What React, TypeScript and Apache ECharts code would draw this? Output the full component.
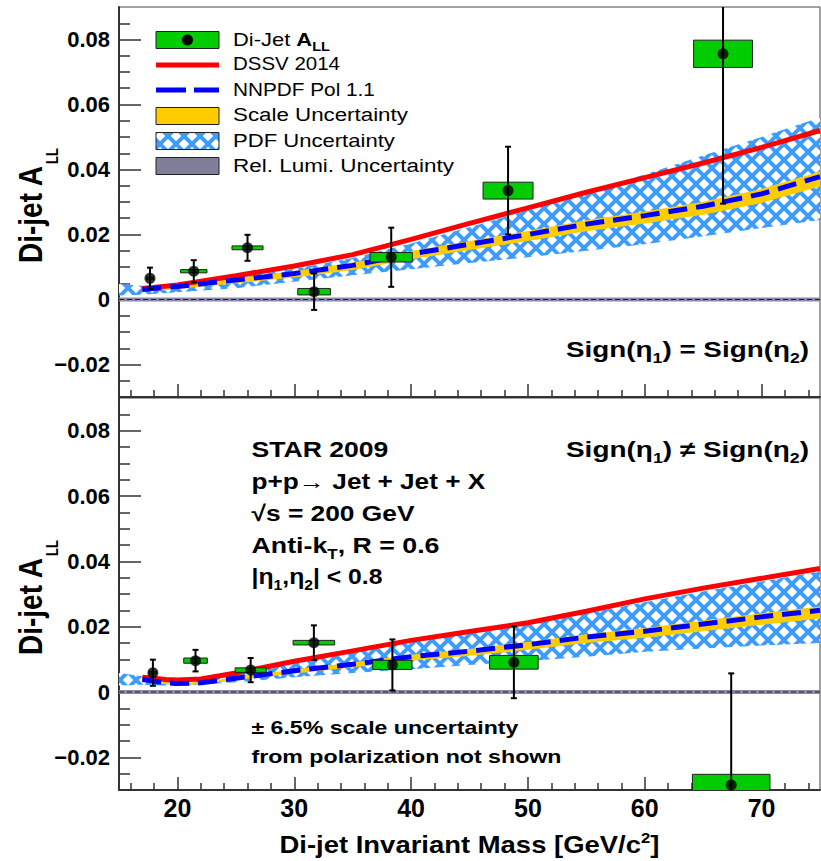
import React, { useEffect, useRef } from 'react';
import * as echarts from 'echarts';

// ---------- axes ----------
const X_MIN = 15;
const X_MAX = 75;
const Y_MIN = -0.03;
const Y_MAX = 0.09;
const xMajorTicks = [20, 30, 40, 50, 60, 70];
const xMinorTicks = [16, 18, 22, 24, 26, 28, 32, 34, 36, 38, 42, 44, 46, 48, 52, 54, 56, 58, 62, 64, 66, 68, 72, 74];
const yMajorTicks = [-0.02, 0, 0.02, 0.04, 0.06, 0.08];
const yMinorTicks = [-0.025, -0.015, -0.01, -0.005, 0.005, 0.01, 0.015, 0.025, 0.03, 0.035, 0.045, 0.05, 0.055, 0.065, 0.07, 0.075, 0.085];

// ---------- top panel: Sign(eta1) = Sign(eta2) ----------
const topMass = [17.65, 21.4, 26.0, 31.7, 38.3, 48.3, 66.7];
const topALL = [0.0065, 0.0087, 0.0159, 0.0024, 0.0130, 0.0335, 0.0756];
const topStat = [0.0033, 0.0034, 0.0040, 0.0056, 0.0091, 0.0135, 0.0461];
const topSysHalfW = [0.3, 1.13, 1.33, 1.4, 1.81, 2.14, 2.52];
const topSysHalfH = [0.0004, 0.0005, 0.0006, 0.0010, 0.00145, 0.0026, 0.0042];

const topTheoryMass = [17, 20, 25, 30, 35, 40, 45, 50, 55, 60, 65, 70, 75];
const topDSSV = [0.0033, 0.0045, 0.0073, 0.0103, 0.0138, 0.0185, 0.0234, 0.0282, 0.0330, 0.0375, 0.0420, 0.0468, 0.0520];
const topNNPDF = [0.0031, 0.0040, 0.0060, 0.0080, 0.0105, 0.0140, 0.0170, 0.0200, 0.0232, 0.0258, 0.0287, 0.0325, 0.0378];
const topScaleHi = [0.0035, 0.0045, 0.0066, 0.0087, 0.0113, 0.0149, 0.0180, 0.0211, 0.0244, 0.0271, 0.0301, 0.0340, 0.0394];
const topScaleLo = [0.0025, 0.0032, 0.0050, 0.0068, 0.0091, 0.0124, 0.0152, 0.0180, 0.0210, 0.0234, 0.0261, 0.0297, 0.0348];

const pdfMass = [15, 17, 20, 25, 30, 35, 40, 45, 50, 55, 60, 65, 70, 75];
const topPdfHi = [0.0048, 0.0042, 0.0050, 0.0068, 0.0095, 0.0128, 0.0172, 0.0222, 0.0275, 0.0330, 0.0385, 0.0443, 0.0500, 0.0560];
const topPdfLo = [0.0012, 0.0015, 0.0022, 0.0035, 0.0055, 0.0075, 0.0093, 0.0112, 0.0130, 0.0150, 0.0170, 0.0195, 0.0220, 0.0245];

// ---------- bottom panel: Sign(eta1) != Sign(eta2) ----------
const botMass = [17.9, 21.55, 26.27, 31.68, 38.4, 48.8, 67.4];
const botALL = [0.0059, 0.0096, 0.0067, 0.0151, 0.0083, 0.0091, -0.0285];
const botStat = [0.0040, 0.0033, 0.0037, 0.0053, 0.0078, 0.0110, 0.0342];
const botSysHalfW = [0.3, 1.01, 1.33, 1.78, 1.68, 2.08, 3.32];
const botSysHalfH = [0.0004, 0.0008, 0.0007, 0.0007, 0.0014, 0.0021, 0.0033];

const botTheoryMass = [17, 19, 20, 22, 25, 30, 35, 40, 45, 50, 55, 60, 65, 70, 75];
const botDSSV = [0.0045, 0.0038, 0.0037, 0.0040, 0.0058, 0.0094, 0.0126, 0.0158, 0.0185, 0.0212, 0.0247, 0.0285, 0.0318, 0.0348, 0.0378];
const botNNPDF = [0.0038, 0.0028, 0.0026, 0.0028, 0.0042, 0.0065, 0.0085, 0.0108, 0.0125, 0.0145, 0.0168, 0.0186, 0.0208, 0.0230, 0.0250];
const botScaleHi = [0.0040, 0.0030, 0.0028, 0.0030, 0.0045, 0.0069, 0.0090, 0.0114, 0.0132, 0.0153, 0.0177, 0.0196, 0.0219, 0.0241, 0.0262];
const botScaleLo = [0.0034, 0.0024, 0.0022, 0.0023, 0.0036, 0.0057, 0.0075, 0.0096, 0.0111, 0.0129, 0.0150, 0.0166, 0.0186, 0.0206, 0.0225];
const botPdfHi = [0.0058, 0.0048, 0.0040, 0.0055, 0.0088, 0.0120, 0.0152, 0.0180, 0.0205, 0.0240, 0.0275, 0.0308, 0.0338, 0.0370];
const botPdfLo = [0.0020, 0.0022, 0.0018, 0.0030, 0.0045, 0.0058, 0.0070, 0.0083, 0.0095, 0.0108, 0.0123, 0.0133, 0.0142, 0.0150];

// relative luminosity band and zero line
const lumiMass = [15, 75];
const lumiLo = [-0.0006, -0.0006];
const lumiHi = [0.0006, 0.0006];
const zeroVal = [0, 0];

// ---------- styling ----------
const FONT = '"Liberation Sans", Arial, Helvetica, sans-serif';
const GREEN = '#00cc00';
const RED = '#ff0000';
const BLUE = '#0000ff';
const YELLOW = '#ffcc00';
const LUMI = '#8a8aa8';
const HATCH = '#3d9cff';
const AXIS = '#333333';

type Seg = { t: string; size: number; bold?: boolean; dy?: number };
let measureCtx: CanvasRenderingContext2D | null = null;
const fontOf = (s: Seg) => `${s.bold ? 'bold' : 'normal'} ${s.size}px ${FONT}`;
const measure = (s: Seg) => {
  if (!measureCtx) measureCtx = document.createElement('canvas').getContext('2d');
  measureCtx!.font = fontOf(s);
  return measureCtx!.measureText(s.t).width;
};
const textStyle = (s: Seg) => ({
  text: s.t,
  font: fontOf(s),
  fill: '#000',
  align: 'left',
  textAlign: 'left',
  verticalAlign: 'middle',
  textVerticalAlign: 'middle',
});

function textRow(segs: Seg[], x: number, baseline: number, width: number, align: 'left' | 'right' | 'center' = 'left') {
  const ws = segs.map(measure);
  const natural = ws.reduce((a, b) => a + b, 0);
  const sc = width / natural;
  let cur = align === 'left' ? x : align === 'right' ? x - width : x - width / 2;
  return segs.map((s, i) => {
    const el = {
      type: 'text',
      x: cur,
      y: baseline + (s.dy || 0) - 0.3465 * s.size,
      scaleX: sc,
      z: 100,
      silent: true,
      style: textStyle(s),
    };
    cur += ws[i] * sc;
    return el;
  });
}

function textCol(segs: Seg[], baselineX: number, startY: number, cross: number) {
  const ws = segs.map(measure);
  let cur = startY;
  return segs.map((s, i) => {
    const el = {
      type: 'text',
      x: baselineX + (s.dy || 0) - 0.3465 * s.size * cross,
      y: cur,
      rotation: Math.PI / 2,
      scaleY: cross,
      z: 100,
      silent: true,
      style: textStyle(s),
    };
    cur -= ws[i];
    return el;
  });
}

function makeHatch() {
  const n = 16;
  const c = document.createElement('canvas');
  c.width = n;
  c.height = n;
  const g = c.getContext('2d')!;
  g.fillStyle = '#ffffff';
  g.fillRect(0, 0, n, n);
  g.strokeStyle = HATCH;
  g.lineWidth = 4;
  g.beginPath();
  g.moveTo(-3, -3);
  g.lineTo(n + 3, n + 3);
  g.moveTo(n + 3, -3);
  g.lineTo(-3, n + 3);
  g.stroke();
  return { image: c, repeat: 'repeat', imageWidth: n, imageHeight: n };
}

function bandSeries(xs: number[], lo: number[], hi: number[], fill: any, axis: number, z: number) {
  return {
    type: 'custom',
    xAxisIndex: axis,
    yAxisIndex: axis,
    clip: true,
    silent: true,
    z,
    data: xs.map((x, i) => [x, lo[i], hi[i]]),
    encode: { x: 0, y: [1, 2] },
    renderItem: (params: any, api: any) => {
      if (params.dataIndex !== 0) return null;
      const pts: number[][] = [];
      for (let i = 0; i < xs.length; i++) pts.push(api.coord([xs[i], hi[i]]));
      for (let i = xs.length - 1; i >= 0; i--) pts.push(api.coord([xs[i], lo[i]]));
      return { type: 'polygon', shape: { points: pts }, style: { fill, stroke: null, lineWidth: 0 } };
    },
  };
}

function lineSeries(xs: number[], ys: number[], color: string, width: number, type: any, axis: number, z: number) {
  return {
    type: 'line',
    xAxisIndex: axis,
    yAxisIndex: axis,
    data: xs.map((x, i) => [x, ys[i]]),
    showSymbol: false,
    symbol: 'none',
    silent: true,
    clip: true,
    z,
    lineStyle: { color, width, type },
  };
}

function boxSeries(xs: number[], ys: number[], hw: number[], hh: number[], axis: number) {
  return {
    type: 'custom',
    xAxisIndex: axis,
    yAxisIndex: axis,
    clip: true,
    silent: true,
    z: 7,
    data: xs.map((x, i) => [x, ys[i], hw[i], hh[i]]),
    encode: { x: 0, y: 1 },
    renderItem: (params: any, api: any) => {
      const x = api.value(0), y = api.value(1), w = api.value(2), h = api.value(3);
      const p1 = api.coord([x - w, y + h]);
      const p2 = api.coord([x + w, y - h]);
      return {
        type: 'rect',
        shape: { x: p1[0], y: p1[1], width: p2[0] - p1[0], height: p2[1] - p1[1] },
        style: { fill: GREEN, stroke: '#222', lineWidth: 1 },
      };
    },
  };
}

function errSeries(xs: number[], ys: number[], es: number[], axis: number) {
  return {
    type: 'custom',
    xAxisIndex: axis,
    yAxisIndex: axis,
    clip: true,
    silent: true,
    z: 8,
    data: xs.map((x, i) => [x, ys[i], es[i]]),
    encode: { x: 0, y: 1 },
    renderItem: (params: any, api: any) => {
      const x = api.value(0), y = api.value(1), e = api.value(2);
      const t = api.coord([x, y + e]);
      const b = api.coord([x, y - e]);
      const c = 3;
      const st = { stroke: '#000', lineWidth: 2 };
      return {
        type: 'group',
        children: [
          { type: 'line', shape: { x1: t[0], y1: t[1], x2: b[0], y2: b[1] }, style: st },
          { type: 'line', shape: { x1: t[0] - c, y1: t[1], x2: t[0] + c, y2: t[1] }, style: st },
          { type: 'line', shape: { x1: b[0] - c, y1: b[1], x2: b[0] + c, y2: b[1] }, style: st },
        ],
      };
    },
  };
}

function pointSeries(xs: number[], ys: number[], axis: number) {
  return {
    type: 'scatter',
    xAxisIndex: axis,
    yAxisIndex: axis,
    silent: true,
    z: 9,
    symbol: 'circle',
    symbolSize: 11,
    itemStyle: { color: '#000' },
    data: xs.map((x, i) => [x, ys[i]]),
  };
}

const fmtY = (v: number) => (Math.abs(v) < 1e-9 ? '0' : (v < 0 ? '\u2212' : '') + Math.abs(v).toFixed(2));

function xAxes(gridIndex: number, labels: boolean) {
  return [
    {
      type: 'value', gridIndex, min: X_MIN, max: X_MAX, position: 'bottom',
      axisLine: { show: true, onZero: false, lineStyle: { color: AXIS, width: 2 } },
      axisTick: { show: true, inside: true, length: 13, customValues: xMajorTicks, lineStyle: { color: AXIS, width: 1.5 } },
      axisLabel: {
        show: labels, customValues: xMajorTicks, margin: 5, fontSize: 25, fontWeight: 'bold',
        fontFamily: FONT, color: '#000', formatter: (v: number) => String(v),
      },
      splitLine: { show: false },
    },
    {
      type: 'value', gridIndex, min: X_MIN, max: X_MAX, position: 'bottom',
      axisLine: { show: false, onZero: false },
      axisTick: { show: true, inside: true, length: 7, customValues: xMinorTicks, lineStyle: { color: AXIS, width: 1.5 } },
      axisLabel: { show: false },
      splitLine: { show: false },
    },
  ];
}

function yAxes(gridIndex: number) {
  return [
    {
      type: 'value', gridIndex, min: Y_MIN, max: Y_MAX, position: 'left',
      axisLine: { show: true, onZero: false, lineStyle: { color: AXIS, width: 2 } },
      axisTick: { show: true, inside: true, length: 22, customValues: yMajorTicks, lineStyle: { color: AXIS, width: 1.5 } },
      axisLabel: {
        show: true, customValues: yMajorTicks, margin: 9, fontSize: 22, fontWeight: 'bold',
        fontFamily: FONT, color: '#000', formatter: fmtY,
      },
      splitLine: { show: false },
    },
    {
      type: 'value', gridIndex, min: Y_MIN, max: Y_MAX, position: 'left',
      axisLine: { show: false, onZero: false },
      axisTick: { show: true, inside: true, length: 11, customValues: yMinorTicks, lineStyle: { color: AXIS, width: 1.5 } },
      axisLabel: { show: false },
      splitLine: { show: false },
    },
  ];
}

function panelSeries(axis: number, p: any, hatch: any) {
  return [
    bandSeries(pdfMass, p.pdfLo, p.pdfHi, hatch, axis, 1),
    bandSeries(lumiMass, lumiLo, lumiHi, LUMI, axis, 2),
    lineSeries(lumiMass, zeroVal, '#222', 1.2, [5, 3], axis, 3),
    bandSeries(p.thMass, p.scaleLo, p.scaleHi, YELLOW, axis, 4),
    lineSeries(p.thMass, p.dssv, RED, 5, 'solid', axis, 5),
    lineSeries(p.thMass, p.nnpdf, BLUE, 5, [19, 9], axis, 6),
    boxSeries(p.mass, p.all, p.sysW, p.sysH, axis),
    errSeries(p.mass, p.all, p.stat, axis),
    pointSeries(p.mass, p.all, axis),
  ];
}

function buildGraphics(hatch: any) {
  const els: any[] = [];
  const lx0 = 156, lw = 63, ly = [40, 65, 90, 116, 141, 166];
  const boxH = 17;
  const rectEl = (y: number, fill: any) => ({
    type: 'rect', z: 100, silent: true,
    shape: { x: lx0, y: y - boxH / 2, width: lw, height: boxH },
    style: { fill, stroke: '#222', lineWidth: 1 },
  });
  els.push(rectEl(ly[0], GREEN));
  els.push({ type: 'circle', z: 101, silent: true, shape: { cx: lx0 + lw / 2, cy: ly[0], r: 5.5 }, style: { fill: '#000' } });
  els.push({ type: 'line', z: 100, silent: true, shape: { x1: lx0, y1: ly[1], x2: lx0 + lw, y2: ly[1] }, style: { stroke: RED, lineWidth: 5 } });
  els.push({ type: 'line', z: 100, silent: true, shape: { x1: lx0, y1: ly[2], x2: lx0 + lw, y2: ly[2] }, style: { stroke: BLUE, lineWidth: 5, lineDash: [30, 8] } });
  els.push(rectEl(ly[3], YELLOW));
  els.push(rectEl(ly[4], hatch));
  els.push(rectEl(ly[5], '#7f7f9c'));

  const tx = 233;
  els.push(...textRow([{ t: 'Di-Jet ', size: 18 }, { t: 'A', size: 18, bold: true }, { t: 'LL', size: 12, bold: true, dy: 5 }], tx, 46, 97));
  els.push(...textRow([{ t: 'DSSV 2014', size: 18 }], tx, 70.5, 107));
  els.push(...textRow([{ t: 'NNPDF Pol 1.1', size: 18 }], tx, 95.5, 142));
  els.push(...textRow([{ t: 'Scale Uncertainty', size: 18 }], tx, 121, 175));
  els.push(...textRow([{ t: 'PDF Uncertainty', size: 18 }], tx, 146.5, 162));
  els.push(...textRow([{ t: 'Rel. Lumi. Uncertainty', size: 18 }], tx, 172, 221));

  // panel labels
  els.push(...textRow([
    { t: 'Sign(\u03b7', size: 22, bold: true }, { t: '1', size: 14, bold: true, dy: 6 },
    { t: ') = Sign(\u03b7', size: 22, bold: true }, { t: '2', size: 14, bold: true, dy: 6 },
    { t: ')', size: 22, bold: true },
  ], 809, 357, 243, 'right'));
  els.push(...textRow([
    { t: 'Sign(\u03b7', size: 22, bold: true }, { t: '1', size: 14, bold: true, dy: 6 },
    { t: ') \u2260 Sign(\u03b7', size: 22, bold: true }, { t: '2', size: 14, bold: true, dy: 6 },
    { t: ')', size: 22, bold: true },
  ], 809, 457, 243, 'right'));

  const ax = 251.5;
  els.push(...textRow([{ t: 'STAR 2009', size: 22, bold: true }], ax, 457, 137));
  els.push(...textRow([{ t: 'p+p\u2192 Jet + Jet + X', size: 22, bold: true }], ax, 489, 234));
  els.push(...textRow([{ t: '\u221as = 200 GeV', size: 22, bold: true }], ax, 521, 163));
  els.push(...textRow([
    { t: 'Anti-k', size: 22, bold: true }, { t: 'T', size: 14, bold: true, dy: 6 },
    { t: ', R = 0.6', size: 22, bold: true },
  ], ax, 553, 188));
  els.push(...textRow([
    { t: '|\u03b7', size: 22, bold: true }, { t: '1', size: 14, bold: true, dy: 6 },
    { t: ',\u03b7', size: 22, bold: true }, { t: '2', size: 14, bold: true, dy: 6 },
    { t: '| < 0.8', size: 22, bold: true },
  ], ax, 584, 131));
  els.push(...textRow([{ t: '\u00b1 6.5% scale uncertainty', size: 19, bold: true }], ax, 734, 267));
  els.push(...textRow([{ t: 'from polarization not shown', size: 19, bold: true }], ax, 763, 310));

  // x title
  els.push(...textRow([
    { t: 'Di-jet Invariant Mass [GeV/c', size: 23, bold: true },
    { t: '2', size: 14, bold: true, dy: -10 },
    { t: ']', size: 23, bold: true },
  ], 469.5, 853, 380, 'center'));

  // y titles (rotated)
  for (const startY of [263, 655]) {
    els.push(...textCol([{ t: 'Di-jet A', size: 28, bold: true }], 42, startY, 1.2));
    els.push(...textCol([{ t: 'LL', size: 13, bold: true }], 58, startY - 99, 1.2));
  }
  return els;
}

const App = () => {
  const ref = useRef<HTMLDivElement>(null);
  useEffect(() => {
    if (!ref.current) return;
    const chart = echarts.init(ref.current, null, { renderer: 'svg' });
    const hatch = makeHatch();
    const top = {
      mass: topMass, all: topALL, stat: topStat, sysW: topSysHalfW, sysH: topSysHalfH,
      thMass: topTheoryMass, dssv: topDSSV, nnpdf: topNNPDF, scaleLo: topScaleLo, scaleHi: topScaleHi,
      pdfLo: topPdfLo, pdfHi: topPdfHi,
    };
    const bot = {
      mass: botMass, all: botALL, stat: botStat, sysW: botSysHalfW, sysH: botSysHalfH,
      thMass: botTheoryMass, dssv: botDSSV, nnpdf: botNNPDF, scaleLo: botScaleLo, scaleHi: botScaleHi,
      pdfLo: botPdfLo, pdfHi: botPdfHi,
    };
    const option: any = {
      animation: false,
      backgroundColor: '#ffffff',
      grid: [
        { left: 119, right: 1, top: 7, height: 390, show: true, borderColor: '#444', borderWidth: 1, backgroundColor: 'transparent' },
        { left: 119, right: 1, top: 398, height: 392, show: true, borderColor: '#444', borderWidth: 1, backgroundColor: 'transparent' },
      ],
      xAxis: [...xAxes(0, false), ...xAxes(1, true)],
      yAxis: [...yAxes(0), ...yAxes(1)],
      series: [...panelSeries(0, top, hatch), ...panelSeries(2, bot, hatch)],
      graphic: { elements: buildGraphics(hatch) },
    };
    chart.setOption(option);
    return () => chart.dispose();
  }, []);
  return (
    <div
      ref={ref}
      style={{ position: 'fixed', left: 0, top: 0, width: 821, height: 861, background: '#fff' }}
    />
  );
};

export default App;
